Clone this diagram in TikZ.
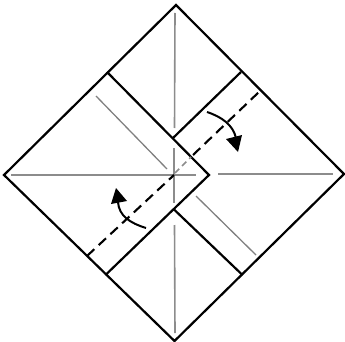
\documentclass[tikz,border=0pt]{standalone}
\tikzset{
  fold/.style={black,line width=2.2pt,line join=miter},
  crease/.style={black!45,line width=1.6pt},
  thincrease/.style={black!50,line width=1.3pt},
  valley/.style={black,line width=2.1pt,dash pattern=on 10pt off 6pt},
  valleygray/.style={black!45,line width=1.7pt,dash pattern=on 6pt off 4pt},
  curl/.style={black,line width=2pt},
  curlhead/.style={fill=black,draw=none}
}
\begin{document}
\begin{tikzpicture}[x=1pt,y=-1pt]
\useasboundingbox (0,0) rectangle (345,342);
\coordinate (top) at (176,5);
\coordinate (right) at (344,174);
\coordinate (bottom) at (174.5,341);
\coordinate (left) at (4,175);
\coordinate (tl) at (107,72);
\coordinate (tr) at (241,72);
\coordinate (br) at (242.5,275);
\coordinate (bl) at (105.5,275);
\coordinate (tip) at (209,175);
\coordinate (e) at (173,138);
\coordinate (f) at (173.5,209);
% creases
\draw[crease] (175,13) -- (174.5,128);
\draw[crease] (174,148) -- (174,203);
\draw[crease] (174.5,225) -- (175,333);
\draw[crease] (11,175) -- (196,175);
\draw[crease] (218,174) -- (333,174);
\draw[thincrease] (96,96) -- (167,169);
\draw[thincrease] (196,196) -- (256,255);
% outline and flaps
\draw[fold] (top) -- (right) -- (bottom) -- (left) -- cycle;
\draw[fold] (tl) -- (tip) -- (bl);
\draw[fold] (tr) -- (e);
\draw[fold] (f) -- (br);
% valley fold
\draw[valley] (87,256) -- (174,175);
\draw[valleygray] (175,173) -- (191,157);
\draw[valley] (193,155) -- (260,91);
% arrows
\draw[curl] (207,112) .. controls (222,117) and (233,125) .. (236,138);
\fill[curlhead] (238,152) -- (226,139) -- (242,135) -- cycle;
\draw[curl] (146,228) .. controls (130,223) and (119,216) .. (118,202);
\fill[curlhead] (116,188) -- (111,204) -- (127,201) -- cycle;
\end{tikzpicture}
\end{document}
